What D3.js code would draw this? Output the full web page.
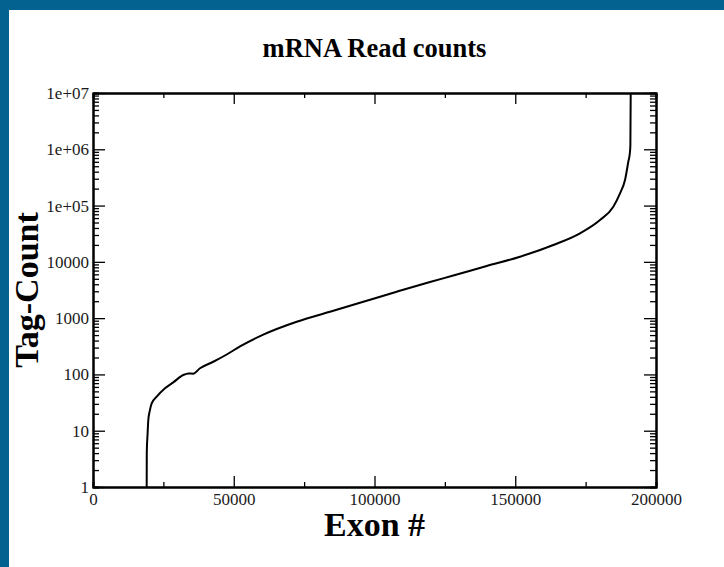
<!DOCTYPE html>
<meta charset="utf-8">
<script src="https://d3js.org/d3.v7.min.js"></script>
<html>
<head>
<style>
body { margin: 0; padding: 0; background: #ffffff; }
.tick text { font-family: "Liberation Serif", serif; font-size: 17px; fill: #1a1a1a; }
.domain { stroke: #000; stroke-width: 2px; }
.tick line { stroke: #000; stroke-width: 1.3px; }
</style>
</head>
<body>
<div id="my_dataviz"></div>
<script>

  // values
  var exonIndex = [19076, 19100, 19400, 19645, 20200, 20853, 22629, 25577, 28526, 32078, 34000, 35600, 38011,
                   42736, 47497, 52220, 60498, 72363, 84192, 96022, 107888, 119716, 127993, 139859, 151688,
                   163518, 173003, 180108, 184833, 187213, 188989, 190161, 190765, 190900, 191013];
  var tagCount = [1, 4, 9, 15.5, 23, 30.7, 40.2, 56.7, 72.4, 97.7, 104, 103, 128.5,
                  168, 226, 315, 510, 864, 1301, 1958, 2947, 4385, 5720, 8440, 12340,
                  19920, 32150, 55400, 95400, 165000, 284000, 601000, 905000, 1200000, 10000000];

  var xTicks = [0, 50000, 100000, 150000, 200000];
  var xMinorTicks = [25000, 75000, 125000, 175000];
  var yTicks = [1, 10, 100, 1000, 10000, 100000, 1000000, 10000000];
  var yTickLabels = ["1", "10", "100", "1000", "10000", "1e+05", "1e+06", "1e+07"];

  var yMinorTicks = [];
  for (var e = 0; e < 7; e++) {
    for (var m = 2; m <= 9; m++) yMinorTicks.push(m * Math.pow(10, e));
  }

  var W = 724, H = 567;
  var margin = {top: 93, right: 68, bottom: 80, left: 93},
      width = W - margin.left - margin.right,
      height = H - margin.top - margin.bottom;

  var root = d3.select("#my_dataviz")
    .append("svg")
      .attr("width", W)
      .attr("height", H);

  // blue frame round the page
  root.append("rect").attr("width", W).attr("height", H).attr("fill", "#03628f");
  root.append("rect").attr("x", 9).attr("y", 10).attr("width", W - 9).attr("height", H - 10).attr("fill", "#ffffff");

  var svg = root.append("g")
      .attr("transform", "translate(" + margin.left + "," + margin.top + ")");

  var x = d3.scaleLinear().domain([0, 200000]).range([0, width]);
  var y = d3.scaleLog().domain([1, 1e7]).range([height, 0]);

  // minor ticks first, all four sides
  svg.append("g").attr("transform", "translate(0," + height + ")")
    .call(d3.axisBottom(x).tickValues(xMinorTicks).tickSize(-5).tickFormat(""));
  svg.append("g")
    .call(d3.axisTop(x).tickValues(xMinorTicks).tickSize(-5).tickFormat(""));
  svg.append("g")
    .call(d3.axisLeft(y).tickValues(yMinorTicks).tickSize(-6).tickFormat(""));
  svg.append("g").attr("transform", "translate(" + width + ",0)")
    .call(d3.axisRight(y).tickValues(yMinorTicks).tickSize(-6).tickFormat(""));

  // major ticks
  svg.append("g").attr("transform", "translate(0," + height + ")")
    .call(d3.axisBottom(x).tickValues(xTicks).tickSize(-11).tickSizeOuter(0).tickPadding(6)
      .tickFormat(function(d) { return String(d); }));
  svg.append("g")
    .call(d3.axisTop(x).tickValues(xTicks).tickSize(-11).tickSizeOuter(0).tickFormat(""));
  svg.append("g")
    .call(d3.axisLeft(y).tickValues(yTicks).tickSize(-12).tickSizeOuter(0).tickPadding(4)
      .tickFormat(function(d, i) { return yTickLabels[i]; }));
  svg.append("g").attr("transform", "translate(" + width + ",0)")
    .call(d3.axisRight(y).tickValues(yTicks).tickSize(-12).tickSizeOuter(0).tickFormat(""));

  // the curve
  var pts = exonIndex.map(function(d, i) { return {x: d, y: tagCount[i]}; });
  svg.append("path")
    .datum(pts)
    .attr("fill", "none")
    .attr("stroke", "black")
    .attr("stroke-width", 2)
    .attr("stroke-linejoin", "round")
    .attr("d", d3.line()
      .curve(d3.curveMonotoneX)
      .x(function(d) { return x(d.x); })
      .y(function(d) { return y(d.y); }));

  // title and axis labels
  root.append("text")
    .attr("x", margin.left + width / 2)
    .attr("y", 57)
    .attr("text-anchor", "middle")
    .style("font-family", "Liberation Serif, serif")
    .style("font-weight", "bold")
    .style("font-size", "26.5px")
    .text("mRNA Read counts");

  root.append("text")
    .attr("x", margin.left + width / 2)
    .attr("y", 536)
    .attr("text-anchor", "middle")
    .style("font-family", "Liberation Serif, serif")
    .style("font-weight", "bold")
    .style("font-size", "34px")
    .text("Exon #");

  root.append("text")
    .attr("transform", "translate(38," + (margin.top + height / 2) + ") rotate(-90)")
    .attr("text-anchor", "middle")
    .style("font-family", "Liberation Serif, serif")
    .style("font-weight", "bold")
    .style("font-size", "34px")
    .text("Tag-Count");

</script>
</body>
</html>
